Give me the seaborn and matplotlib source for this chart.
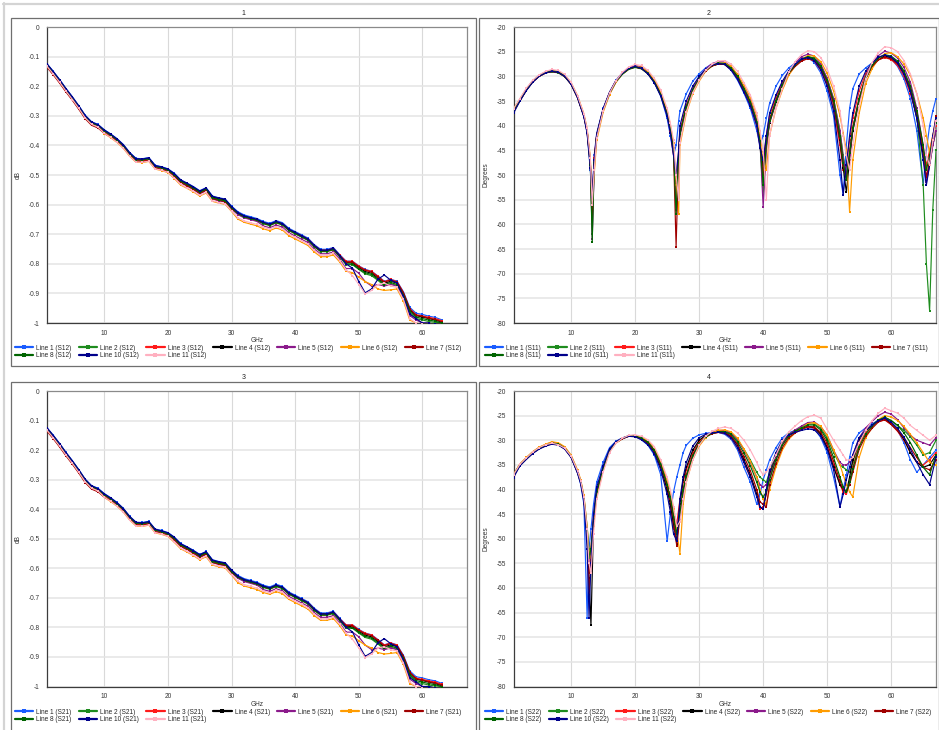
import matplotlib
matplotlib.use("Agg")
import matplotlib.pyplot as plt
import seaborn as sns
import pandas as pd
from matplotlib.lines import Line2D
from matplotlib.patches import Rectangle

# ---------------------------------------------------------------- data
LINE_NAMES = ["Line 1", "Line 2", "Line 3", "Line 4", "Line 5", "Line 6",
              "Line 7", "Line 8", "Line 10", "Line 11"]
LINE_COLORS = ["#1a5cff", "#1e8c1e", "#ff1a1a", "#000000", "#8b1a8b",
               "#ff9c00", "#a00000", "#006400", "#00008b", "#ffb0c0"]

# insertion loss (S12 / S21), GHz grid
X_IL = [1, 2, 3, 4, 5, 6, 7, 8, 9, 10, 11, 12, 13, 14, 15, 16, 17, 18, 19, 20,
        21, 22, 23, 24, 25, 26, 27, 28, 29, 30, 31, 32, 33, 34, 35, 36, 37, 38, 39, 40,
        41, 42, 43, 44, 45, 46, 47, 48, 49, 50, 51, 52, 53, 54, 55, 56, 57, 58, 59, 60,
        61, 62, 63]

S12_L1 = [-0.124, -0.150, -0.178, -0.208, -0.236, -0.266, -0.298, -0.320, -0.329, -0.347,
          -0.361, -0.377, -0.397, -0.424, -0.444, -0.445, -0.441, -0.467, -0.472, -0.479,
          -0.494, -0.516, -0.527, -0.539, -0.553, -0.543, -0.571, -0.577, -0.581, -0.605,
          -0.624, -0.635, -0.641, -0.647, -0.657, -0.663, -0.654, -0.661, -0.680, -0.691,
          -0.702, -0.713, -0.735, -0.751, -0.751, -0.745, -0.769, -0.791, -0.791, -0.807,
          -0.819, -0.825, -0.841, -0.859, -0.852, -0.859, -0.894, -0.947, -0.967, -0.971,
          -0.977, -0.981, -0.989]
S12_L2 = [-0.129, -0.155, -0.183, -0.213, -0.241, -0.271, -0.303, -0.325, -0.334, -0.352,
          -0.366, -0.382, -0.402, -0.429, -0.449, -0.450, -0.446, -0.472, -0.477, -0.485,
          -0.500, -0.522, -0.533, -0.545, -0.559, -0.549, -0.578, -0.584, -0.588, -0.613,
          -0.632, -0.643, -0.649, -0.655, -0.665, -0.671, -0.662, -0.669, -0.688, -0.699,
          -0.710, -0.721, -0.743, -0.759, -0.759, -0.753, -0.777, -0.803, -0.803, -0.819,
          -0.834, -0.840, -0.856, -0.874, -0.867, -0.874, -0.910, -0.965, -0.985, -0.990,
          -0.995, -0.998, -1.000]
S12_L3 = [-0.131, -0.157, -0.185, -0.215, -0.243, -0.273, -0.305, -0.327, -0.336, -0.354,
          -0.368, -0.384, -0.404, -0.431, -0.451, -0.452, -0.448, -0.473, -0.478, -0.485,
          -0.500, -0.521, -0.532, -0.544, -0.558, -0.548, -0.576, -0.582, -0.586, -0.610,
          -0.629, -0.640, -0.646, -0.652, -0.662, -0.668, -0.659, -0.665, -0.684, -0.695,
          -0.705, -0.716, -0.738, -0.754, -0.754, -0.748, -0.771, -0.792, -0.792, -0.808,
          -0.820, -0.826, -0.842, -0.860, -0.853, -0.860, -0.897, -0.952, -0.972, -0.976,
          -0.981, -0.985, -0.992]
S12_L4 = [-0.126, -0.153, -0.181, -0.211, -0.239, -0.269, -0.301, -0.323, -0.332, -0.350,
          -0.364, -0.380, -0.400, -0.427, -0.447, -0.448, -0.444, -0.470, -0.475, -0.482,
          -0.497, -0.519, -0.530, -0.542, -0.556, -0.546, -0.574, -0.580, -0.584, -0.608,
          -0.628, -0.639, -0.645, -0.651, -0.661, -0.667, -0.658, -0.665, -0.684, -0.695,
          -0.706, -0.717, -0.739, -0.755, -0.755, -0.749, -0.773, -0.796, -0.797, -0.813,
          -0.826, -0.832, -0.848, -0.866, -0.859, -0.865, -0.900, -0.955, -0.975, -0.980,
          -0.985, -0.990, -0.997]
S12_L5 = [-0.128, -0.154, -0.182, -0.212, -0.240, -0.270, -0.302, -0.324, -0.333, -0.351,
          -0.365, -0.381, -0.401, -0.428, -0.448, -0.449, -0.445, -0.471, -0.476, -0.483,
          -0.504, -0.526, -0.537, -0.549, -0.563, -0.553, -0.581, -0.587, -0.591, -0.615,
          -0.634, -0.645, -0.651, -0.657, -0.672, -0.678, -0.669, -0.676, -0.695, -0.706,
          -0.717, -0.728, -0.750, -0.766, -0.766, -0.760, -0.784, -0.816, -0.816, -0.832,
          -0.860, -0.875, -0.870, -0.875, -0.870, -0.875, -0.915, -0.975, -0.990, -1.000,
          -1.000, -1.005, -1.010]
S12_L6 = [-0.134, -0.160, -0.188, -0.218, -0.246, -0.276, -0.308, -0.330, -0.339, -0.360,
          -0.374, -0.390, -0.410, -0.437, -0.457, -0.458, -0.454, -0.480, -0.485, -0.492,
          -0.512, -0.534, -0.545, -0.557, -0.571, -0.561, -0.589, -0.595, -0.599, -0.623,
          -0.649, -0.660, -0.666, -0.672, -0.682, -0.688, -0.679, -0.686, -0.705, -0.716,
          -0.727, -0.738, -0.760, -0.776, -0.776, -0.770, -0.794, -0.825, -0.830, -0.845,
          -0.860, -0.870, -0.885, -0.890, -0.888, -0.885, -0.925, -0.990, -1.000, -1.005,
          -1.010, -1.010, -1.010]
S12_L7 = [-0.136, -0.162, -0.190, -0.220, -0.248, -0.278, -0.310, -0.332, -0.341, -0.359,
          -0.370, -0.386, -0.406, -0.433, -0.453, -0.454, -0.450, -0.476, -0.481, -0.488,
          -0.503, -0.525, -0.536, -0.548, -0.562, -0.552, -0.580, -0.586, -0.590, -0.614,
          -0.630, -0.641, -0.647, -0.653, -0.663, -0.669, -0.660, -0.667, -0.686, -0.697,
          -0.708, -0.719, -0.741, -0.757, -0.757, -0.751, -0.775, -0.794, -0.794, -0.810,
          -0.822, -0.828, -0.844, -0.862, -0.855, -0.862, -0.898, -0.952, -0.974, -0.978,
          -0.984, -0.988, -0.995]
S12_L8 = [-0.128, -0.154, -0.182, -0.212, -0.240, -0.270, -0.302, -0.324, -0.333, -0.351,
          -0.365, -0.381, -0.401, -0.428, -0.448, -0.449, -0.445, -0.471, -0.476, -0.484,
          -0.499, -0.521, -0.532, -0.544, -0.558, -0.548, -0.577, -0.583, -0.587, -0.611,
          -0.630, -0.641, -0.647, -0.653, -0.663, -0.669, -0.660, -0.667, -0.686, -0.697,
          -0.708, -0.719, -0.741, -0.757, -0.757, -0.751, -0.775, -0.800, -0.801, -0.817,
          -0.830, -0.836, -0.852, -0.870, -0.863, -0.870, -0.905, -0.960, -0.980, -0.985,
          -0.990, -0.994, -1.000]
S12_L10 = [-0.125, -0.151, -0.179, -0.209, -0.237, -0.267, -0.299, -0.321, -0.330, -0.348,
           -0.362, -0.378, -0.398, -0.425, -0.445, -0.446, -0.442, -0.468, -0.473, -0.480,
           -0.495, -0.517, -0.528, -0.540, -0.554, -0.544, -0.572, -0.578, -0.582, -0.607,
           -0.627, -0.638, -0.644, -0.650, -0.660, -0.666, -0.657, -0.664, -0.683, -0.694,
           -0.705, -0.716, -0.738, -0.754, -0.754, -0.748, -0.772, -0.800, -0.815, -0.860,
           -0.898, -0.885, -0.852, -0.838, -0.855, -0.865, -0.910, -0.970, -0.985, -1.000,
           -1.000, -1.005, -1.010]
S12_L11 = [-0.133, -0.159, -0.187, -0.217, -0.245, -0.275, -0.307, -0.329, -0.338, -0.359,
           -0.373, -0.389, -0.409, -0.436, -0.456, -0.457, -0.453, -0.479, -0.484, -0.491,
           -0.510, -0.532, -0.543, -0.555, -0.569, -0.559, -0.587, -0.593, -0.597, -0.621,
           -0.644, -0.655, -0.661, -0.667, -0.677, -0.683, -0.674, -0.681, -0.700, -0.711,
           -0.722, -0.733, -0.755, -0.771, -0.771, -0.765, -0.789, -0.820, -0.840, -0.870,
           -0.902, -0.890, -0.870, -0.865, -0.875, -0.880, -0.920, -0.985, -1.000, -1.005,
           -1.010, -1.010, -1.010]

# S21 traces coincide with S12 (reciprocal channel)
S21_L1, S21_L2, S21_L3, S21_L4, S21_L5 = S12_L1, S12_L2, S12_L3, S12_L4, S12_L5
S21_L6, S21_L7, S21_L8, S21_L10, S21_L11 = S12_L6, S12_L7, S12_L8, S12_L10, S12_L11

# return loss S11
X_S11 = [1, 2, 3, 4, 5, 6, 7, 8, 9, 10, 11, 12,
         12.5, 13, 13.3, 13.6,
         14, 15, 16, 17, 18, 19, 20, 21, 22, 23, 24, 25,
         25.5, 26, 26.4, 26.8,
         27, 28, 29, 30, 31, 32, 33, 34, 35, 36, 37, 38, 39,
         39.5, 40, 40.5,
         41, 42, 43, 44, 45, 46, 47, 48, 49, 50, 51, 52,
         52.5, 53, 53.5,
         54, 55, 56, 57, 58, 59, 60, 61, 62, 63, 64, 65,
         65.5, 66, 66.5, 67]

S11_L1 = [-36.9, -34.7, -32.6, -31.0, -29.9, -29.3, -29.0, -29.2, -30.0, -31.6, -34.3, -38.2,
          -41.5, -49.0, -55.0, -46.0,
          -41.5, -36.5, -33.2, -30.8, -29.3, -28.3, -28.0, -28.4, -29.5, -31.3, -34.0, -38.5,
          -42.0, -46.0, -44.0, -39.0,
          -37.0, -33.5, -31.0, -29.5, -28.3, -27.5, -27.3, -27.6, -28.8, -30.8, -33.4, -36.5, -41.0,
          -44.0, -42.0, -38.5,
          -35.5, -32.0, -29.8, -28.3, -27.3, -26.3, -26.2, -27.2, -29.3, -33.0, -38.0, -50.0,
          -54.0, -44.0, -36.5,
          -32.5, -29.5, -28.3, -27.3, -26.4, -25.9, -26.4, -28.0, -30.5, -34.5, -41.0, -52.0,
          -45.0, -40.0, -37.0, -34.5]
S11_L2 = [-36.7, -34.8, -32.8, -31.1, -30.0, -29.3, -29.1, -29.3, -30.1, -31.6, -34.3, -38.0,
          -41.0, -47.0, -62.0, -48.0,
          -42.2, -37.0, -33.6, -31.2, -29.6, -28.6, -28.2, -28.5, -29.5, -31.2, -33.8, -37.6,
          -40.8, -45.5, -55.0, -47.0,
          -42.0, -36.4, -32.9, -30.6, -28.9, -27.9, -27.4, -27.5, -28.4, -30.1, -32.6, -35.4, -39.5,
          -43.5, -54.0, -44.0,
          -39.0, -35.0, -31.9, -29.3, -27.8, -26.6, -26.0, -26.3, -27.8, -30.5, -34.5, -41.0,
          -46.0, -50.0, -46.0,
          -41.0, -35.0, -30.5, -28.0, -26.5, -25.8, -26.1, -27.2, -29.2, -32.5, -38.0, -52.0,
          -68.0, -77.5, -57.0, -45.0]
S11_L3 = [-36.9, -34.9, -32.8, -31.1, -30.0, -29.3, -29.0, -29.2, -30.0, -31.6, -34.3, -38.1,
          -41.2, -48.0, -57.0, -46.5,
          -41.8, -36.7, -33.3, -30.9, -29.4, -28.4, -28.1, -28.4, -29.4, -31.2, -33.8, -37.8,
          -41.0, -46.0, -54.0, -45.0,
          -41.0, -35.8, -32.5, -30.3, -28.8, -27.8, -27.5, -27.6, -28.6, -30.4, -33.0, -35.8, -40.0,
          -44.0, -48.0, -42.0,
          -38.0, -34.2, -31.4, -29.2, -27.9, -26.8, -26.4, -26.9, -28.8, -31.8, -36.5, -44.0,
          -49.0, -48.0, -43.0,
          -38.5, -33.0, -29.5, -27.6, -26.6, -26.2, -26.6, -27.8, -30.0, -33.5, -38.0, -45.0,
          -48.0, -45.0, -42.0, -40.0]
S11_L4 = [-37.2, -35.0, -32.8, -31.1, -30.0, -29.3, -29.0, -29.2, -30.0, -31.5, -34.2, -38.0,
          -41.0, -47.5, -55.0, -47.5,
          -42.0, -36.8, -33.4, -31.0, -29.5, -28.5, -28.1, -28.4, -29.4, -31.1, -33.7, -37.6,
          -40.5, -44.5, -52.0, -46.5,
          -41.8, -36.3, -32.9, -30.6, -28.9, -27.9, -27.5, -27.6, -28.5, -30.2, -32.6, -35.2, -39.2,
          -43.5, -48.5, -44.0,
          -39.5, -35.3, -32.0, -29.4, -27.8, -26.6, -26.1, -26.5, -28.2, -31.0, -35.5, -43.0,
          -48.5, -53.5, -47.0,
          -41.0, -35.0, -30.5, -28.0, -26.6, -25.9, -26.2, -27.3, -29.4, -32.8, -38.5, -46.0,
          -51.0, -48.0, -44.0, -41.0]
S11_L5 = [-36.8, -34.7, -32.6, -30.9, -29.8, -29.1, -28.8, -29.0, -29.8, -31.4, -34.1, -37.9,
          -41.0, -47.0, -63.0, -49.0,
          -42.2, -36.9, -33.4, -31.0, -29.3, -28.3, -27.8, -28.1, -29.1, -30.8, -33.4, -37.3,
          -40.3, -44.5, -57.0, -46.5,
          -41.8, -36.2, -32.6, -30.2, -28.5, -27.4, -27.0, -27.1, -28.0, -29.8, -32.2, -34.8, -38.8,
          -43.0, -56.5, -45.0,
          -39.2, -35.0, -31.6, -29.0, -27.3, -26.0, -25.5, -25.9, -27.5, -30.4, -34.6, -41.0,
          -46.5, -50.0, -46.0,
          -40.5, -34.5, -30.0, -27.4, -25.8, -24.9, -25.3, -26.3, -28.2, -31.2, -36.5, -44.0,
          -51.5, -48.0, -44.0, -41.0]
S11_L6 = [-36.6, -34.6, -32.6, -31.0, -29.9, -29.2, -28.9, -29.0, -29.8, -31.3, -33.9, -37.6,
          -40.6, -46.5, -56.0, -50.0,
          -43.0, -37.3, -33.7, -31.2, -29.5, -28.5, -28.0, -28.2, -29.1, -30.7, -33.1, -36.8,
          -39.8, -43.5, -52.0, -58.0,
          -44.0, -37.5, -33.5, -31.0, -29.0, -27.9, -27.3, -27.3, -28.0, -29.6, -31.8, -34.3, -38.0,
          -41.8, -46.0, -49.0,
          -42.0, -36.5, -32.8, -29.8, -27.9, -26.5, -25.8, -25.9, -27.0, -29.4, -33.0, -38.0,
          -41.5, -45.0, -57.5,
          -47.0, -37.5, -31.5, -28.5, -26.5, -25.4, -25.2, -26.0, -27.5, -29.8, -33.5, -38.5,
          -42.0, -45.5, -42.0, -39.0]
S11_L7 = [-37.0, -34.9, -32.8, -31.1, -30.0, -29.3, -29.0, -29.2, -30.0, -31.6, -34.3, -38.1,
          -41.2, -47.5, -59.0, -47.0,
          -42.0, -36.8, -33.4, -31.0, -29.5, -28.5, -28.1, -28.4, -29.4, -31.1, -33.7, -37.6,
          -40.6, -45.5, -64.5, -46.0,
          -41.5, -36.2, -32.8, -30.5, -28.9, -27.9, -27.5, -27.6, -28.6, -30.3, -32.8, -35.5, -39.5,
          -43.5, -50.0, -43.5,
          -39.0, -34.9, -31.8, -29.4, -28.0, -26.9, -26.4, -26.8, -28.5, -31.2, -35.5, -42.5,
          -48.0, -51.0, -45.5,
          -40.5, -34.5, -30.3, -28.0, -26.7, -26.1, -26.5, -27.5, -29.4, -32.5, -37.5, -44.5,
          -50.5, -47.0, -42.5, -38.0]
S11_L8 = [-36.8, -34.8, -32.7, -31.0, -29.9, -29.2, -28.9, -29.1, -29.9, -31.5, -34.2, -38.0,
          -41.0, -48.0, -63.5, -47.5,
          -42.0, -36.8, -33.4, -31.0, -29.5, -28.5, -28.1, -28.4, -29.4, -31.1, -33.7, -37.6,
          -40.6, -45.2, -58.0, -46.0,
          -41.6, -36.2, -32.8, -30.5, -28.8, -27.8, -27.3, -27.4, -28.3, -30.0, -32.5, -35.2, -39.2,
          -43.2, -52.0, -43.5,
          -39.0, -35.0, -31.8, -29.3, -27.7, -26.5, -26.0, -26.4, -28.0, -30.8, -35.0, -42.0,
          -47.5, -51.0, -45.5,
          -40.5, -34.5, -30.2, -27.8, -26.3, -25.6, -25.9, -26.9, -28.9, -32.0, -37.0, -44.0,
          -49.0, -46.0, -42.5, -39.5]
S11_L10 = [-37.5, -35.0, -32.9, -31.2, -30.0, -29.3, -29.0, -29.2, -30.0, -31.6, -34.3, -38.2,
           -41.5, -48.5, -54.5, -47.0,
           -41.8, -36.6, -33.3, -30.9, -29.4, -28.4, -28.0, -28.4, -29.5, -31.3, -34.0, -38.0,
           -41.5, -46.0, -50.0, -45.0,
           -40.0, -35.0, -32.0, -30.0, -28.6, -27.7, -27.4, -27.6, -28.7, -30.6, -33.2, -36.0, -40.0,
           -44.5, -47.0, -42.0,
           -37.5, -33.8, -31.0, -28.9, -27.6, -26.5, -26.2, -26.8, -28.7, -32.0, -37.0, -47.0,
           -54.0, -48.0, -42.0,
           -37.5, -32.0, -29.0, -27.3, -26.1, -25.7, -26.1, -27.3, -29.6, -33.0, -38.5, -47.0,
           -52.0, -48.0, -42.0, -38.5]
S11_L11 = [-36.6, -34.5, -32.4, -30.8, -29.7, -29.0, -28.6, -28.8, -29.6, -31.2, -33.9, -37.6,
           -40.5, -46.5, -56.0, -49.0,
           -42.5, -37.0, -33.4, -30.9, -29.2, -28.1, -27.6, -27.8, -28.8, -30.4, -32.8, -36.5,
           -39.5, -43.0, -50.0, -55.0,
           -43.5, -37.2, -33.3, -30.8, -28.8, -27.6, -26.9, -26.8, -27.5, -29.0, -31.3, -33.8, -37.5,
           -41.0, -45.0, -55.0,
           -42.0, -36.5, -32.5, -29.2, -27.0, -25.6, -24.8, -25.0, -26.2, -28.5, -32.0, -37.0,
           -42.0, -46.0, -49.0,
           -44.0, -36.0, -30.5, -27.2, -25.2, -24.0, -24.2, -25.0, -26.8, -29.5, -33.5, -40.0,
           -46.0, -48.0, -43.0, -39.0]

# return loss S22
X_S22 = [1, 2, 3, 4, 5, 6, 7, 8, 9, 10, 11,
         11.5, 12, 12.5, 12.8, 13.1, 13.5,
         14, 15, 16, 17, 18, 19, 20, 21, 22, 23, 24,
         25, 25.5, 26, 26.5, 27, 27.5,
         28, 29, 30, 31, 32, 33, 34, 35, 36, 37, 38,
         39, 39.5, 40, 40.5,
         41, 42, 43, 44, 45, 46, 47, 48, 49, 50, 51,
         52, 52.5, 53, 53.5,
         54, 55, 56, 57, 58, 59, 60, 61, 62, 63, 64, 65, 66, 67]

S22_L1 = [-37.3, -35.1, -33.8, -32.6, -31.7, -31.1, -30.7, -30.9, -31.7, -33.4, -36.6,
          -39.0, -43.0, -66.0, -52.0, -48.0, -43.0,
          -38.5, -34.5, -31.5, -30.2, -29.5, -29.1, -29.2, -29.9, -31.0, -33.0, -37.0,
          -50.5, -45.0, -40.5, -37.5, -35.0, -32.5,
          -31.0, -29.6, -28.9, -28.6, -28.4, -28.4, -28.8, -29.8, -32.0, -35.5, -38.5,
          -43.0, -41.0, -38.0, -36.0,
          -34.0, -31.5, -29.5, -28.5, -28.0, -27.7, -27.4, -27.6, -29.5, -32.5, -37.5,
          -43.5, -40.0, -37.0, -33.5,
          -30.5, -28.5, -27.5, -26.7, -25.9, -25.5, -26.6, -28.0, -30.5, -34.0, -36.5, -35.0, -33.5, -32.0]
S22_L2 = [-37.0, -34.9, -33.6, -32.4, -31.5, -30.9, -30.4, -30.6, -31.5, -33.2, -36.3,
          -38.2, -41.5, -47.5, -52.0, -55.0, -47.0,
          -40.8, -35.9, -32.1, -30.5, -29.6, -29.1, -29.1, -29.6, -30.4, -32.0, -34.8,
          -38.7, -41.3, -45.0, -50.0, -45.0, -40.5,
          -37.5, -33.3, -30.8, -29.4, -28.6, -28.2, -28.2, -28.6, -30.0, -31.8, -34.0,
          -36.5, -37.5, -38.0, -38.5,
          -36.5, -33.0, -30.5, -28.8, -28.0, -27.3, -26.7, -26.7, -27.6, -29.5, -32.5,
          -35.0, -35.5, -36.0, -36.5,
          -34.5, -30.5, -28.3, -26.9, -25.9, -25.4, -26.0, -27.0, -28.0, -29.3, -31.0, -33.0, -32.5, -30.0]
S22_L3 = [-37.1, -35.0, -33.7, -32.5, -31.6, -31.0, -30.6, -30.8, -31.6, -33.3, -36.4,
          -38.5, -42.0, -49.0, -57.0, -52.0, -45.5,
          -40.2, -35.6, -32.0, -30.4, -29.6, -29.1, -29.1, -29.7, -30.6, -32.3, -35.5,
          -39.8, -43.0, -48.0, -47.0, -42.0, -38.5,
          -36.0, -32.5, -30.3, -29.2, -28.6, -28.4, -28.6, -29.5, -31.5, -34.5, -37.5,
          -41.0, -44.0, -43.5, -41.0,
          -37.5, -33.5, -30.8, -29.1, -28.3, -27.7, -27.3, -27.5, -28.8, -31.2, -35.0,
          -39.0, -40.5, -41.0, -38.5,
          -35.5, -30.8, -28.5, -27.2, -26.2, -25.9, -26.8, -28.2, -30.0, -32.5, -34.5, -35.0, -34.0, -32.5]
S22_L4 = [-37.3, -35.1, -33.8, -32.6, -31.7, -31.1, -30.7, -30.9, -31.7, -33.4, -36.5,
          -38.5, -42.0, -49.0, -58.0, -67.5, -47.0,
          -40.5, -35.8, -32.1, -30.5, -29.7, -29.2, -29.2, -29.7, -30.6, -32.3, -35.5,
          -40.0, -43.0, -47.0, -51.0, -43.0, -38.0,
          -35.5, -32.0, -30.0, -29.0, -28.5, -28.3, -28.4, -29.2, -31.0, -34.0, -37.0,
          -41.0, -43.5, -44.0, -40.5,
          -37.0, -33.5, -30.8, -29.0, -28.2, -27.6, -27.2, -27.4, -28.8, -31.5, -35.5,
          -39.0, -40.0, -40.5, -37.5,
          -34.0, -30.0, -28.0, -27.0, -26.0, -25.6, -26.7, -28.0, -29.8, -32.5, -34.5, -35.5, -35.0, -33.0]
S22_L5 = [-37.0, -34.9, -33.6, -32.4, -31.5, -30.9, -30.5, -30.7, -31.5, -33.2, -36.3,
          -38.3, -41.7, -48.5, -55.0, -53.0, -46.0,
          -40.6, -35.8, -32.0, -30.4, -29.6, -29.1, -29.0, -29.5, -30.2, -31.8, -34.6,
          -38.5, -41.0, -44.5, -47.0, -46.0, -41.5,
          -38.0, -33.6, -30.9, -29.3, -28.4, -28.0, -28.0, -28.5, -29.8, -32.0, -34.5,
          -37.5, -39.0, -39.5, -39.0,
          -37.5, -33.8, -30.8, -28.9, -27.9, -27.1, -26.4, -26.3, -27.2, -29.0, -32.0,
          -34.5, -35.0, -35.0, -34.5,
          -33.0, -29.5, -27.5, -26.2, -25.0, -24.3, -24.7, -25.8, -27.5, -29.0, -30.0, -30.5, -31.0, -29.5]
S22_L6 = [-36.9, -34.8, -33.5, -32.3, -31.4, -30.8, -30.3, -30.5, -31.3, -33.0, -36.0,
          -38.0, -41.2, -47.5, -53.0, -54.0, -47.5,
          -41.5, -36.2, -32.3, -30.6, -29.7, -29.1, -29.0, -29.4, -30.1, -31.6, -34.3,
          -38.0, -40.5, -44.0, -48.5, -53.0, -43.0,
          -38.5, -34.0, -31.2, -29.5, -28.5, -28.0, -27.9, -28.3, -29.6, -31.8, -34.3,
          -37.5, -40.0, -42.0, -43.0,
          -40.0, -35.5, -32.0, -29.8, -28.5, -27.5, -26.6, -26.4, -27.2, -29.0, -32.0,
          -35.0, -37.0, -39.0, -40.5,
          -41.5, -33.5, -29.5, -27.5, -25.8, -25.0, -25.3, -26.0, -27.2, -28.8, -30.5, -32.5, -34.5, -35.0]
S22_L7 = [-37.2, -35.1, -33.8, -32.6, -31.7, -31.1, -30.7, -30.9, -31.7, -33.4, -36.5,
          -38.5, -42.0, -49.5, -61.0, -55.0, -46.5,
          -40.6, -35.8, -32.1, -30.5, -29.7, -29.2, -29.2, -29.7, -30.5, -32.1, -35.1,
          -39.3, -42.0, -46.0, -51.5, -45.5, -40.0,
          -37.0, -33.0, -30.6, -29.3, -28.7, -28.4, -28.5, -29.1, -30.8, -33.3, -36.2,
          -40.0, -42.5, -43.0, -43.5,
          -39.0, -34.8, -31.5, -29.5, -28.5, -27.8, -27.2, -27.3, -28.4, -30.6, -34.3,
          -38.3, -40.0, -40.5, -39.0,
          -36.5, -31.8, -29.2, -27.6, -26.3, -25.8, -26.8, -28.0, -29.5, -31.5, -33.5, -35.5, -36.0, -34.0]
S22_L8 = [-37.1, -35.0, -33.7, -32.5, -31.6, -31.0, -30.6, -30.8, -31.6, -33.3, -36.4,
          -38.4, -41.8, -48.5, -54.0, -52.0, -46.0,
          -40.5, -35.8, -32.0, -30.4, -29.6, -29.1, -29.1, -29.6, -30.4, -32.0, -34.9,
          -39.0, -41.5, -45.5, -49.0, -44.8, -40.2,
          -37.3, -33.2, -30.7, -29.3, -28.6, -28.3, -28.3, -28.8, -30.4, -32.6, -35.2,
          -38.5, -40.5, -41.5, -40.5,
          -38.0, -34.0, -31.0, -29.1, -28.2, -27.5, -26.9, -26.9, -27.9, -30.0, -33.5,
          -37.5, -39.5, -40.5, -38.5,
          -35.8, -31.3, -28.8, -27.2, -25.9, -25.3, -26.0, -27.0, -28.5, -30.5, -33.0, -35.5, -37.0, -33.0]
S22_L10 = [-37.6, -35.2, -33.9, -32.7, -31.8, -31.2, -30.8, -31.0, -31.8, -33.5, -36.7,
           -38.8, -42.5, -52.0, -66.0, -55.0, -45.0,
           -39.5, -35.2, -31.8, -30.3, -29.6, -29.2, -29.3, -29.9, -30.9, -32.7, -36.0,
           -41.0, -44.5, -49.0, -50.5, -42.0, -37.5,
           -34.5, -31.2, -29.5, -28.8, -28.5, -28.4, -28.6, -29.5, -31.5, -34.5, -37.5,
           -41.5, -43.5, -44.0, -40.0,
           -36.0, -32.5, -30.0, -28.9, -28.4, -28.0, -27.7, -27.9, -29.2, -31.8, -36.0,
           -43.5, -41.0, -38.0, -35.5,
           -33.0, -29.5, -28.0, -27.0, -26.0, -25.5, -26.3, -27.6, -29.4, -31.8, -34.5, -37.0, -39.0, -33.5]
S22_L11 = [-37.0, -34.9, -33.6, -32.4, -31.5, -30.9, -30.6, -30.9, -31.6, -33.2, -36.2,
           -38.2, -41.5, -48.0, -55.0, -57.0, -49.0,
           -42.0, -36.5, -32.5, -30.6, -29.6, -29.0, -28.9, -29.2, -29.9, -31.3, -34.0,
           -37.5, -40.0, -43.5, -47.5, -46.5, -42.0,
           -38.5, -34.0, -31.0, -29.2, -28.2, -27.6, -27.3, -27.6, -28.5, -30.0, -32.0,
           -34.5, -36.0, -37.0, -36.5,
           -35.5, -33.0, -30.2, -28.3, -27.1, -26.0, -25.2, -24.9, -25.5, -27.8, -30.0,
           -32.0, -33.0, -34.0, -34.0,
           -33.5, -30.5, -28.0, -26.0, -24.5, -23.5, -24.0, -24.5, -25.5, -27.0, -28.0, -29.0, -30.0, -29.0]

IL_TICKS = [0, -0.1, -0.2, -0.3, -0.4, -0.5, -0.6, -0.7, -0.8, -0.9, -1]
IL_TICK_LABELS = ["0", "-0.1", "-0.2", "-0.3", "-0.4", "-0.5", "-0.6", "-0.7", "-0.8", "-0.9", "-1"]
RL_TICKS = [-20, -25, -30, -35, -40, -45, -50, -55, -60, -65, -70, -75, -80]
RL_TICK_LABELS = [str(t) for t in RL_TICKS]
X_TICKS = [10, 20, 30, 40, 50, 60]

# ---------------------------------------------------------------- style
sns.set_style("white")
plt.rcParams["font.family"] = ["Liberation Sans", "DejaVu Sans"]
plt.rcParams["axes.unicode_minus"] = False

W, H = 939, 730
fig = plt.figure(figsize=(W / 100, H / 100), dpi=100)
fig.patch.set_facecolor("white")


def fx(x):
    return x / W


def fy(y):
    return 1 - y / H


# outer light frame
fig.add_artist(Line2D([fx(4), fx(4)], [fy(3), 0], transform=fig.transFigure,
                      color="#d4d4d4", lw=1.6))
fig.add_artist(Line2D([fx(3), 1], [fy(4), fy(4)], transform=fig.transFigure,
                      color="#d4d4d4", lw=1.6))

panels = [
    dict(num="1", box=(10.7, 18.3, 475.7, 366), ax=(47, 27, 467, 323), x=X_IL,
         ys=[S12_L1, S12_L2, S12_L3, S12_L4, S12_L5, S12_L6, S12_L7, S12_L8, S12_L10, S12_L11],
         tag="S12", ylim=(-1, 0), yt=IL_TICKS, ytl=IL_TICK_LABELS, ylab="dB",
         ylab_x=18, leg=(15, 344.5)),
    dict(num="2", box=(479.3, 18.3, 938.5, 366), ax=(513.5, 27, 936, 323), x=X_S11,
         ys=[S11_L1, S11_L2, S11_L3, S11_L4, S11_L5, S11_L6, S11_L7, S11_L8, S11_L10, S11_L11],
         tag="S11", ylim=(-80, -20), yt=RL_TICKS, ytl=RL_TICK_LABELS, ylab="Degrees",
         ylab_x=486, leg=(485, 344.5)),
    dict(num="3", box=(10.7, 381.7, 475.7, 740), ax=(47, 391, 467, 686.5), x=X_IL,
         ys=[S21_L1, S21_L2, S21_L3, S21_L4, S21_L5, S21_L6, S21_L7, S21_L8, S21_L10, S21_L11],
         tag="S21", ylim=(-1, 0), yt=IL_TICKS, ytl=IL_TICK_LABELS, ylab="dB",
         ylab_x=18, leg=(15, 708.5)),
    dict(num="4", box=(479.3, 381.7, 938.5, 740), ax=(513.5, 391, 936, 686.5), x=X_S22,
         ys=[S22_L1, S22_L2, S22_L3, S22_L4, S22_L5, S22_L6, S22_L7, S22_L8, S22_L10, S22_L11],
         tag="S22", ylim=(-80, -20), yt=RL_TICKS, ytl=RL_TICK_LABELS, ylab="Degrees",
         ylab_x=486, leg=(485, 708.5)),
]

FS = 4.7
# legend order so that a column-major fill reads row by row
LEG_ORDER = [0, 7, 1, 8, 2, 9, 3, 4, 5, 6]

for p in panels:
    bx0, by0, bx1, by1 = p["box"]
    fig.add_artist(Rectangle((fx(bx0), fy(by1)), fx(bx1) - fx(bx0), fy(by0) - fy(by1),
                             transform=fig.transFigure, fill=False,
                             edgecolor="#6f6f6f", lw=0.9))
    fig.text(fx((bx0 + bx1) / 2), fy(by0 - 4.5), p["num"], ha="center", va="center",
             fontsize=FS + 0.3, color="#222222")

    ax0, ay0, ax1, ay1 = p["ax"]
    ax = fig.add_axes([fx(ax0), fy(ay1), fx(ax1) - fx(ax0), fy(ay0) - fy(ay1)])
    ax.set_facecolor("white")

    labels = [f"{n} ({p['tag']})" for n in LINE_NAMES]
    frames = []
    for lab, yv in zip(labels, p["ys"]):
        frames.append(pd.DataFrame({"GHz": p["x"], "val": yv, "line": lab}))
    df = pd.concat(frames, ignore_index=True)
    sns.lineplot(data=df, x="GHz", y="val", hue="line", hue_order=labels,
                 palette=LINE_COLORS, marker="s", markersize=1.8, markeredgewidth=0,
                 linewidth=0.85, legend=False, ax=ax, zorder=3)

    ax.set_xlim(1, 67)
    ax.set_ylim(*p["ylim"])
    ax.set_xticks(X_TICKS)
    ax.set_xticklabels([str(t) for t in X_TICKS])
    ax.set_yticks(p["yt"])
    ax.set_yticklabels(p["ytl"])
    ax.tick_params(axis="both", labelsize=FS, length=1.6, width=0.6, colors="#333333",
                   pad=3.4, direction="out")
    ax.tick_params(axis="y", pad=3.8)
    ax.grid(axis="x", color="#d9d9d9", lw=0.8, zorder=0)
    ax.grid(axis="y", color="#e4e4e4", lw=1.1, zorder=0)
    ax.set_axisbelow(True)
    for side in ["left", "bottom"]:
        ax.spines[side].set_color("#3c3c3c")
        ax.spines[side].set_linewidth(0.9)
    for side in ["top", "right"]:
        ax.spines[side].set_color("#8a8a8a")
        ax.spines[side].set_linewidth(0.9)
        ax.spines[side].set_visible(True)

    ax.set_xlabel("")
    ax.set_ylabel("")
    fig.text(fx((ax0 + ax1) / 2), fy(ay1 + 17.5), "GHz", ha="center", va="center",
             fontsize=FS, color="#333333")
    fig.text(fx(p["ylab_x"]), fy((ay0 + ay1) / 2), p["ylab"], ha="center", va="center",
             rotation=90, fontsize=FS, color="#333333")

    handles = [Line2D([], [], color=c, lw=1.6, marker="s", markersize=2.2,
                      markeredgewidth=0) for c in LINE_COLORS]
    h_ord = [handles[i] for i in LEG_ORDER]
    l_ord = [labels[i] for i in LEG_ORDER]
    lx, ly = p["leg"]
    ax.legend(h_ord, l_ord, loc="upper left", bbox_to_anchor=(fx(lx), fy(ly)),
              bbox_transform=fig.transFigure, ncol=7, frameon=False, fontsize=FS,
              borderpad=0, borderaxespad=0, handlelength=2.8, handletextpad=0.46,
              columnspacing=1.12, labelspacing=0.14, numpoints=1)

fig.savefig("out.png", dpi=100, facecolor="white")
